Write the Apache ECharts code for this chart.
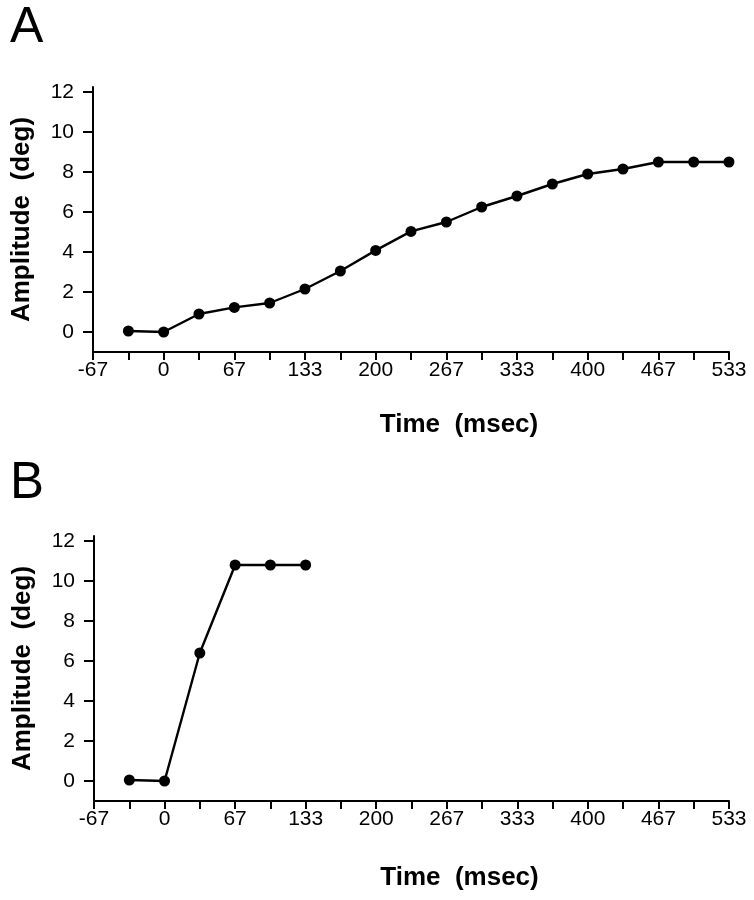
<!DOCTYPE html>
<html>
<head>
<meta charset="utf-8">
<script src="https://cdn.jsdelivr.net/npm/echarts@6/dist/echarts.min.js"></script>
<style>
html,body{margin:0;padding:0;background:#fff;}
#c{width:754px;height:900px;}
</style>
</head>
<body>
<div id="c"></div>
<script>
// Data
const timesA = [-33.3, 0, 33.3, 66.7, 100, 133.3, 166.7, 200, 233.3, 266.7, 300, 333.3, 366.7, 400, 433.3, 466.7, 500, 533.3];
const ampA   = [0.05, 0, 0.9, 1.23, 1.45, 2.15, 3.05, 4.08, 5.03, 5.5, 6.25, 6.8, 7.4, 7.9, 8.15, 8.5, 8.5, 8.5];
const timesB = [-33.3, 0, 33.3, 66.7, 100, 133.3];
const ampB   = [0.05, 0, 6.4, 10.8, 10.8, 10.8];
const xTickLabels = ['-67', '0', '67', '133', '200', '267', '333', '400', '467', '533'];
const yTickLabels = ['0', '2', '4', '6', '8', '10', '12'];
const panelLabels = ['A', 'B'];
const xTitle = 'Time  (msec)';
const yTitle = 'Amplitude  (deg)';

const FONT = '"Liberation Sans", Arial, Helvetica, sans-serif';
const xMin = -200 / 3, xMax = 1600 / 3;
const xMinorTicks = [];
for (let k = -2; k <= 16; k++) xMinorTicks.push((k * 100) / 3);
const xLabelVals = xTickLabels.map((s, i) => ((i - 1) * 200) / 3);
const yVals = yTickLabels.map(Number);

function pairs(xs, ys) { return xs.map((x, i) => [x, ys[i]]); }

function xAxisFor(gridIndex, gap) {
  return {
    type: 'value', gridIndex, min: xMin, max: xMax,
    name: xTitle, nameLocation: 'middle', nameGap: gap,
    nameTextStyle: { fontFamily: FONT, fontSize: 26, fontWeight: 'bold', color: '#000', padding: [0, 0, 0, 96] },
    axisLine: { show: true, onZero: false, lineStyle: { color: '#000', width: 2 } },
    axisTick: { show: true, length: 8, inside: false, customValues: xMinorTicks, lineStyle: { color: '#000', width: 2 } },
    axisLabel: {
      show: true, margin: 8, customValues: xLabelVals, fontFamily: FONT, fontSize: 21, color: '#000',
      formatter: v => xTickLabels[Math.round(v / (200 / 3)) + 1]
    },
    splitLine: { show: false }
  };
}
function yAxisFor(gridIndex) {
  return {
    type: 'value', gridIndex, min: -1, max: 12.25,
    name: yTitle, nameLocation: 'middle', nameGap: 58, nameRotate: 90,
    nameTextStyle: { fontFamily: FONT, fontSize: 26, fontWeight: 'bold', color: '#000' },
    axisLine: { show: true, onZero: false, lineStyle: { color: '#000', width: 2 } },
    axisTick: { show: true, length: 10, inside: false, customValues: yVals, lineStyle: { color: '#000', width: 2 } },
    axisLabel: {
      show: true, margin: 19, customValues: yVals, fontFamily: FONT, fontSize: 21, color: '#000',
      formatter: v => yTickLabels[yVals.indexOf(Math.round(v))]
    },
    splitLine: { show: false }
  };
}
function lineSeries(idx, data) {
  return {
    type: 'line', xAxisIndex: idx, yAxisIndex: idx, data,
    symbol: 'circle', symbolSize: 11, showSymbol: true,
    lineStyle: { color: '#000', width: 2.4 },
    itemStyle: { color: '#000' },
    animation: false
  };
}

const chart = echarts.init(document.getElementById('c'), null, { renderer: 'canvas' });
chart.setOption({
  backgroundColor: '#fff',
  animation: false,
  grid: [
    { left: 93, right: 25, top: 87, height: 265 },
    { left: 94, right: 25, top: 536, height: 265 }
  ],
  xAxis: [xAxisFor(0, 60), xAxisFor(1, 64)],
  yAxis: [yAxisFor(0), yAxisFor(1)],
  series: [lineSeries(0, pairs(timesA, ampA)), lineSeries(1, pairs(timesB, ampB))],
  graphic: [
    { type: 'text', left: 10, top: 3, style: { text: panelLabels[0], font: '50px ' + FONT, fill: '#000' } },
    { type: 'text', left: 10, top: 458, style: { text: panelLabels[1], font: '51px ' + FONT, fill: '#000' } }
  ]
});
</script>
</body>
</html>
